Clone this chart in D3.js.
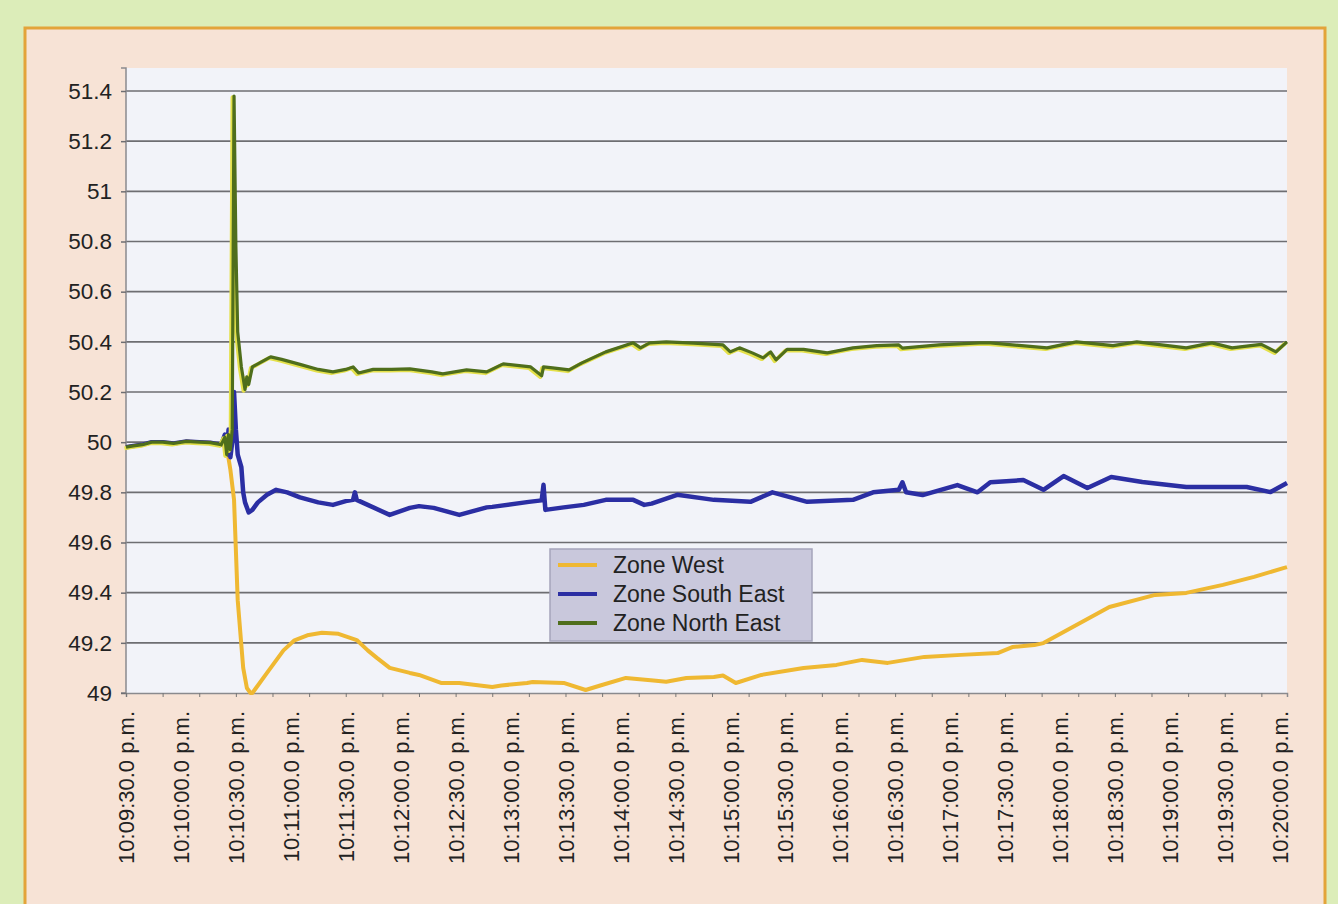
<!DOCTYPE html>
<html>
<head>
<meta charset="utf-8">
<script src="https://cdn.jsdelivr.net/npm/d3@7"></script>
<style>
  body { margin: 0; background: #dcedb9; }
  svg { display: block; font-family: "Liberation Sans", Arial, sans-serif; }
</style>
</head>
<body>
<div class="chart"></div>
<script>
// seconds after 10:09:30 p.m., frequency in Hz
let westT = [0, 4, 9, 14, 20, 26, 33, 40, 46, 52, 55, 57, 59, 61, 64, 66, 68, 69, 72, 77, 86, 92, 99, 107, 116, 126, 132, 137, 144, 155, 160, 172, 182, 200, 205, 219, 222, 239, 251, 259, 273, 288, 295, 306, 321, 326, 333, 347, 370, 388, 402, 416, 436, 456, 476, 484, 496, 501, 517, 537, 562, 579, 599, 616, 632, 634]
let westV = [49.98, 49.985, 49.99, 50.0, 50.0, 49.995, 50.003, 50.0, 49.998, 49.99, 49.98, 49.89, 49.77, 49.37, 49.10, 49.02, 49.0, 49.0, 49.03, 49.08, 49.17, 49.21, 49.23, 49.24, 49.236, 49.211, 49.17, 49.14, 49.10, 49.08, 49.072, 49.04, 49.04, 49.024, 49.03, 49.04, 49.044, 49.04, 49.012, 49.03, 49.06, 49.05, 49.045, 49.06, 49.064, 49.07, 49.04, 49.072, 49.10, 49.112, 49.132, 49.12, 49.144, 49.152, 49.159, 49.183, 49.191, 49.199, 49.263, 49.343, 49.391, 49.399, 49.431, 49.463, 49.498, 49.502]

let southT = [0, 4, 9, 14, 20, 26, 33, 40, 46, 52, 54, 55, 56, 57, 58, 59, 60, 61, 63, 64, 65, 67, 69, 72, 77, 82, 88, 95, 105, 113, 120, 124, 125, 126, 132, 144, 155, 160, 168, 182, 197, 200, 220, 227, 228, 229, 239, 250, 262, 277, 283, 287, 301, 321, 341, 353, 372, 397, 408, 422, 424, 426, 435, 454, 465, 472, 490, 501, 512, 525, 538, 555, 579, 612, 625, 634]
let southV = [49.98, 49.985, 49.99, 50.0, 50.0, 49.995, 50.003, 50.0, 49.998, 49.99, 50.03, 49.95, 50.05, 49.94, 50.0, 50.2, 50.05, 49.95, 49.9, 49.8, 49.76, 49.72, 49.73, 49.76, 49.79, 49.81, 49.8, 49.78, 49.76, 49.75, 49.765, 49.77, 49.8, 49.77, 49.75, 49.71, 49.738, 49.745, 49.738, 49.71, 49.74, 49.742, 49.762, 49.768, 49.83, 49.73, 49.74, 49.75, 49.77, 49.77, 49.75, 49.755, 49.79, 49.77, 49.762, 49.8, 49.762, 49.77, 49.8, 49.81, 49.84, 49.8, 49.789, 49.829, 49.8, 49.84, 49.849, 49.81, 49.865, 49.817, 49.861, 49.841, 49.821, 49.821, 49.801, 49.837]

let northT = [0, 4, 9, 14, 20, 26, 33, 40, 46, 52, 54, 55, 56, 57, 58, 59, 60, 61, 63, 65, 66, 67, 69, 74, 79, 85, 95, 105, 113, 120, 124, 127, 135, 145, 155, 167, 173, 186, 197, 206, 221, 227, 228, 233, 242, 249, 262, 277, 281, 286, 295, 310, 326, 330, 335, 342, 348, 352, 355, 361, 370, 383, 397, 410, 422, 424, 444, 466, 472, 503, 519, 539, 552, 579, 593, 604, 620, 628, 634]
let northV = [49.98, 49.985, 49.99, 50.0, 50.0, 49.995, 50.003, 50.0, 49.998, 49.99, 50.02, 49.95, 50.03, 49.97, 50.05, 51.38, 50.78, 50.44, 50.3, 50.21, 50.26, 50.23, 50.3, 50.32, 50.34, 50.33, 50.31, 50.29, 50.28, 50.29, 50.3, 50.276, 50.29, 50.29, 50.292, 50.28, 50.272, 50.288, 50.28, 50.312, 50.3, 50.265, 50.3, 50.296, 50.288, 50.316, 50.36, 50.396, 50.376, 50.396, 50.4, 50.395, 50.388, 50.36, 50.376, 50.356, 50.336, 50.36, 50.328, 50.37, 50.37, 50.356, 50.376, 50.385, 50.388, 50.375, 50.388, 50.396, 50.396, 50.376, 50.4, 50.385, 50.4, 50.376, 50.396, 50.376, 50.39, 50.36, 50.4]

let seriesNames = ['Zone West', 'Zone South East', 'Zone North East']
let seriesColors = ['#efb832', '#2b2ea3', '#4f6e1c']
let yTicks = [49, 49.2, 49.4, 49.6, 49.8, 50, 50.2, 50.4, 50.6, 50.8, 51, 51.2, 51.4]
let labelSecs = d3.range(0, 631, 30)
let minorSecs = d3.range(0, 634, 20)

let width = 1338
let height = 904
let base = new Date(2000, 0, 1, 22, 9, 30)
let toDate = s => new Date(base.getTime() + s * 1000)

let xScale = d3.scaleTime()
    .domain([base, toDate(634)])
    .range([126, 1287])

let yScale = d3.scaleLinear()
    .domain([49, 51.4])
    .range([693, 91])

let svg = d3.select('.chart')
    .append('svg')
    .attr('width', width)
    .attr('height', height)

// page frame
svg.append('rect').attr('x', 0).attr('y', 0).attr('width', width).attr('height', height).attr('fill', '#dcedb9')
svg.append('rect').attr('x', 25).attr('y', 28).attr('width', 1300).attr('height', 890)
    .attr('fill', '#f7e3d6').attr('stroke', '#e3a43a').attr('stroke-width', 3)

// plot area
svg.append('rect').attr('x', 126).attr('y', 68).attr('width', 1161).attr('height', 625).attr('fill', '#f2f3f9')

// grid lines
svg.append('g').selectAll('line')
    .data(yTicks.slice(1))
    .enter()
    .append('line')
    .attr('x1', 126).attr('x2', 1287)
    .attr('y1', d => yScale(d)).attr('y2', d => yScale(d))
    .attr('stroke', '#6e6e72').attr('stroke-width', 1.6)

// y axis
let yAxis = d3.axisLeft(yScale)
    .tickValues(yTicks)
    .tickSize(5)
    .tickPadding(9)
    .tickFormat(d => String(+d.toFixed(1)))

let gy = svg.append('g').attr('transform', 'translate(126,0)').call(yAxis)
gy.select('.domain').attr('stroke', '#8a8a8e').attr('stroke-width', 1.5)
    .attr('d', 'M-5,68H0V693H-5')
gy.selectAll('line').attr('stroke', '#6e6e72').attr('stroke-width', 1.5)
gy.selectAll('text').attr('font-size', 22.5).attr('fill', '#222')

// x axis: minor ticks
let xMinor = d3.axisBottom(xScale)
    .tickValues(minorSecs.map(toDate))
    .tickSize(4)
    .tickFormat('')
let gx = svg.append('g').attr('transform', 'translate(0,693)').call(xMinor)
gx.select('.domain').attr('stroke', '#8a8a8e').attr('stroke-width', 1.5)
gx.selectAll('line').attr('stroke', '#777')

// x axis: rotated time labels
let fmt = d3.timeFormat('%-I:%M:%S')
let xLabels = d3.axisBottom(xScale)
    .tickValues(labelSecs.map(toDate))
    .tickSize(0)
    .tickFormat(d => fmt(d) + '.0 p.m.')
let gl = svg.append('g').attr('transform', 'translate(0,693)').call(xLabels)
gl.select('.domain').remove()
gl.selectAll('text')
    .attr('font-size', 22)
    .attr('fill', '#222')
    .attr('text-anchor', 'end')
    .attr('transform', 'translate(0,18) rotate(-90)')
    .attr('x', 0)
    .attr('y', 0)
    .attr('dy', '0.35em')

// lines
let line = d3.line()
    .x(d => xScale(toDate(d[0])))
    .y(d => yScale(d[1]))

let westData = westT.map((t, i) => [t, westV[i]])
let southData = southT.map((t, i) => [t, southV[i]])
let northData = northT.map((t, i) => [t, northV[i]])

svg.append('path').datum(westData).attr('d', line)
    .attr('fill', 'none').attr('stroke', seriesColors[0]).attr('stroke-width', 4).attr('stroke-linejoin', 'round')
svg.append('path').datum(southData).attr('d', line)
    .attr('fill', 'none').attr('stroke', seriesColors[1]).attr('stroke-width', 4.5).attr('stroke-linejoin', 'round')
// yellow print fringe under the green line
svg.append('path').datum(northData).attr('d', line)
    .attr('transform', 'translate(-1.5,1.2)')
    .attr('fill', 'none').attr('stroke', '#e4e04a').attr('stroke-width', 4).attr('stroke-linejoin', 'round')
svg.append('path').datum(northData).attr('d', line)
    .attr('fill', 'none').attr('stroke', seriesColors[2]).attr('stroke-width', 3.2).attr('stroke-linejoin', 'round')

// legend
let legend = svg.append('g').attr('transform', 'translate(550,549)')
legend.append('rect')
    .attr('width', 262).attr('height', 92)
    .attr('fill', '#c9c8dc').attr('stroke', '#a5a4bb').attr('stroke-width', 1.5)

seriesNames.forEach((name, i) => {
    let yy = 16 + i * 29
    legend.append('line')
        .attr('x1', 8).attr('x2', 47).attr('y1', yy).attr('y2', yy)
        .attr('stroke', seriesColors[i]).attr('stroke-width', 4)
    legend.append('text')
        .attr('x', 63).attr('y', yy)
        .attr('dy', '0.35em')
        .attr('font-size', 23)
        .attr('fill', '#222')
        .text(name)
})
</script>
</body>
</html>
